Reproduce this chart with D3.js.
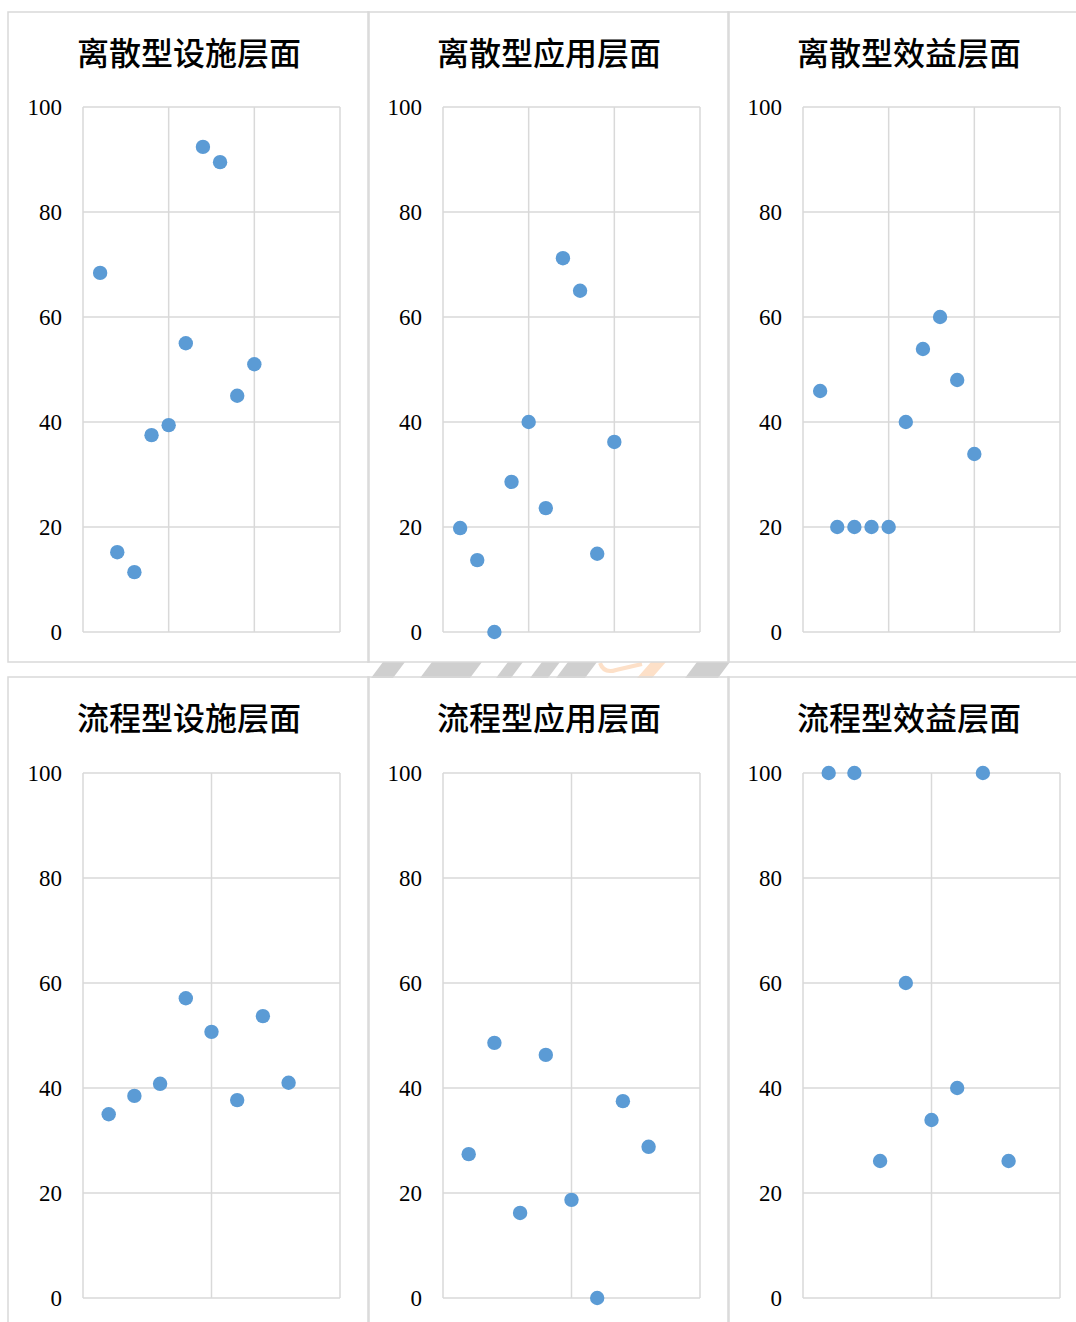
<html>
<head>
<meta charset="utf-8">
<title>Scatter panels</title>
<script type="text/javascript" src="https://d3js.org/d3.v7.min.js"></script>
<style>
  body { margin: 0; background: #fff; }
</style>
</head>
<body>
<script type="text/javascript">
  var width = 1076;
  var height = 1322;

  // panel titles
  var titles = ["离散型设施层面", "离散型应用层面", "离散型效益层面",
                "流程型设施层面", "流程型应用层面", "流程型效益层面"];

  // y values per panel (x = 1, 2, 3 ...)
  var dSheshi  = [68.4, 15.2, 11.4, 37.5, 39.4, 55.0, 92.4, 89.5, 45.0, 51.0];
  var dYingyong = [19.8, 13.7, 0, 28.6, 40.0, 23.6, 71.2, 65.0, 14.9, 36.2];
  var dXiaoyi  = [45.9, 20, 20, 20, 20, 40.0, 53.9, 60.0, 48.0, 33.9];
  var lSheshi  = [35.0, 38.5, 40.8, 57.1, 50.7, 37.7, 53.7, 41.0];
  var lYingyong = [27.4, 48.6, 16.2, 46.3, 18.7, 0, 37.5, 28.8];
  var lXiaoyi  = [100, 100, 26.1, 60.0, 33.9, 40.0, 100, 26.1];

  var series = [dSheshi, dYingyong, dXiaoyi, lSheshi, lYingyong, lXiaoyi];

  var yTicks = [0, 20, 40, 60, 80, 100];
  var xDomainTop = [0, 15], xTicksTop = [5, 10, 15];
  var xDomainBottom = [0, 10], xTicksBottom = [5, 10];

  var gridColor = "#d9d9d9";
  var dotColor = "#5b9bd5";
  var serif = "'Liberation Serif', 'Times New Roman', serif";

  var svg = d3.select("body")
              .append("svg")
              .attr("width", width)
              .attr("height", height);

  // faint watermark strip between rows
  var wm = svg.append("g");
  var stripes = [[371, 393], [420, 470], [496, 511], [530, 548], [556, 585], [685, 718]];
  stripes.forEach(function(s) {
    wm.append("path")
      .attr("d", "M" + s[0] + ",678 L" + (s[1]) + ",678 L" + (s[1] + 12) + ",662 L" + (s[0] + 12) + ",662 Z")
      .style("fill", "#cfcfcf");
  });
  wm.append("path")
    .attr("d", "M600,663 Q604,674 616,670 L642,664")
    .style("fill", "none").style("stroke", "#fde0c8").style("stroke-width", 4);
  wm.append("path")
    .attr("d", "M637,678 L652,678 L666,662 L651,662 Z")
    .style("fill", "#fde0c8");

  var panelW = 361, panelH = 650;
  var panelX = [8, 368, 728];
  var panelY = [12, 677];

  series.forEach(function(data, i) {
    var col = i % 3, row = Math.floor(i / 3);
    var g = svg.append("g")
               .attr("transform", "translate(" + panelX[col] + "," + panelY[row] + ")");

    g.append("rect")
     .attr("x", 0).attr("y", 0)
     .attr("width", panelW).attr("height", panelH)
     .style("fill", "none")
     .style("stroke", gridColor)
     .style("stroke-width", 1.5);

    g.append("text")
     .attr("x", 181).attr("y", 39)
     .attr("text-anchor", "middle")
     .attr("dominant-baseline", "central")
     .style("font-family", "'Noto Sans CJK SC', sans-serif")
     .style("font-size", "32px")
     .style("font-weight", "500")
     .style("fill", "#000")
     .text(titles[i]);

    var top = 95 + row, left = 75;
    var x = d3.scaleLinear()
              .domain(row === 0 ? xDomainTop : xDomainBottom)
              .range([left, left + 257]);
    var y = d3.scaleLinear()
              .domain([0, 100])
              .range([top + 525, top]);

    var plot = g.append("g");
    plot.selectAll("line.h").data(yTicks).enter().append("line")
        .attr("x1", x.range()[0]).attr("x2", x.range()[1])
        .attr("y1", function(d){ return y(d); })
        .attr("y2", function(d){ return y(d); })
        .style("stroke", gridColor).style("stroke-width", 1.5);
    var xt = (row === 0 ? xTicksTop : xTicksBottom).concat([0]);
    plot.selectAll("line.v").data(xt).enter().append("line")
        .attr("x1", function(d){ return x(d); })
        .attr("x2", function(d){ return x(d); })
        .attr("y1", y(0)).attr("y2", y(100))
        .style("stroke", gridColor).style("stroke-width", 1.5);

    var yAxis = d3.axisLeft(y).tickValues(yTicks).tickSize(0).tickPadding(0);
    var ax = g.append("g")
              .attr("transform", "translate(" + (left - 21) + ",0)")
              .call(yAxis)
              .attr("font-family", serif)
              .attr("font-size", 23);
    ax.select(".domain").remove();
    ax.selectAll("text")
      .style("font-family", serif)
      .style("font-size", "23px")
      .style("fill", "#000");

    g.selectAll("circle").data(data).enter().append("circle")
     .attr("r", 7.2)
     .attr("cx", function(d, k){ return x(k + 1); })
     .attr("cy", function(d){ return y(d); })
     .style("fill", dotColor);
  });
</script>
</body>
</html>
